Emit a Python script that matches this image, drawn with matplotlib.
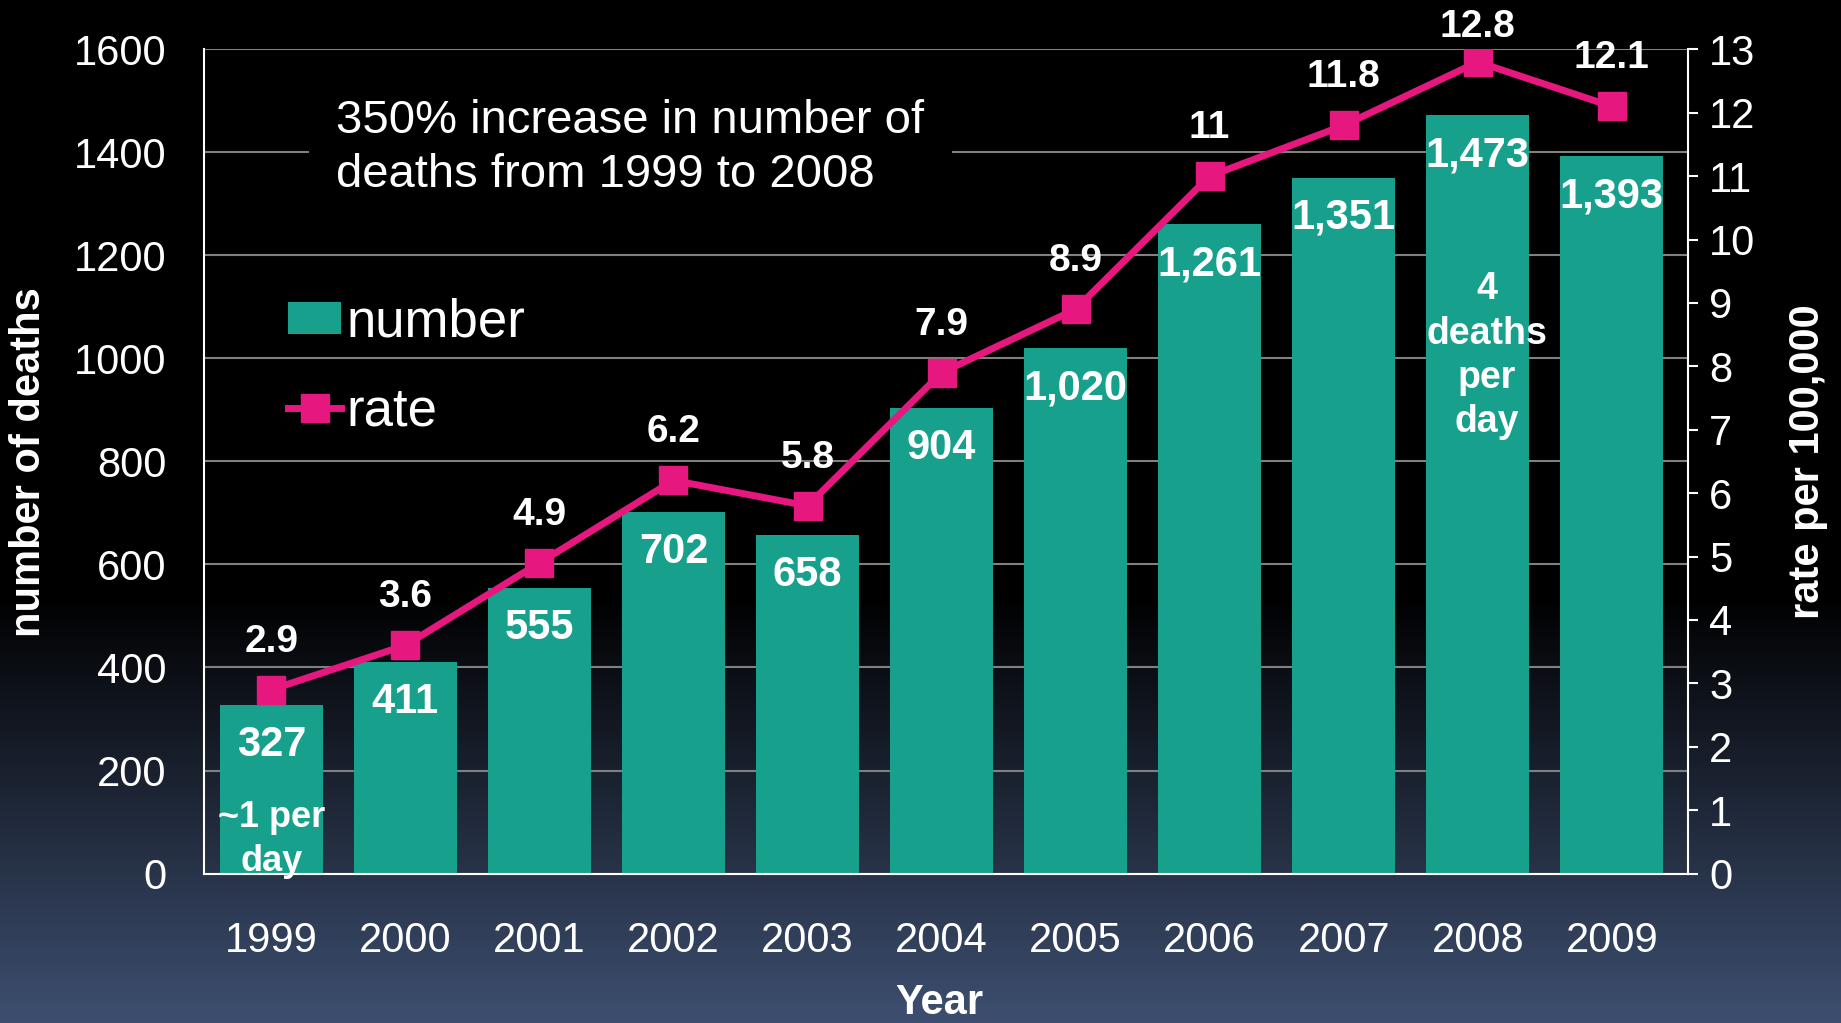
import numpy as np
import matplotlib.pyplot as plt
from matplotlib.patches import Patch
from matplotlib.lines import Line2D

plt.rcParams['font.family'] = ['Liberation Sans', 'DejaVu Sans']

# data
years = ['1999', '2000', '2001', '2002', '2003', '2004', '2005', '2006', '2007', '2008', '2009']
deaths = [327, 411, 555, 702, 658, 904, 1020, 1261, 1351, 1473, 1393]
rates = [2.9, 3.6, 4.9, 6.2, 5.8, 7.9, 8.9, 11, 11.8, 12.8, 12.1]

bar_color = '#17a08b'
line_color = '#e6177e'

W, H, DPI = 1841, 1023, 100
fig = plt.figure(figsize=(W / DPI, H / DPI), dpi=DPI, facecolor='black')

# slide background: black fading to slate blue at the bottom
bg = fig.add_axes([0, 0, 1, 1], zorder=-10)
yy = np.linspace(0, 1, 600)
t = np.clip((yy - 0.58) / 0.42, 0, 1)
bottom_col = np.array([0.24, 0.31, 0.44])
grad = t[:, None, None] * bottom_col[None, None, :]
bg.imshow(grad, aspect='auto', extent=[0, 1, 0, 1])
bg.axis('off')

ax = fig.add_axes([0.111, 0.1461, 0.806, 0.8057])
ax.set_facecolor('none')
x = np.arange(len(years))

ax.bar(x, deaths, width=0.77, color=bar_color, zorder=2)
ax.set_xlim(-0.5, 10.57)
ax.set_ylim(0, 1600)
ax.set_yticks(range(0, 1601, 200))
ax.set_xticks(x)
ax.set_xticklabels(years)
ax.set_axisbelow(True)
ax.yaxis.grid(True, color='#808080', lw=1.5)

for s in ['top', 'right']:
    ax.spines[s].set_visible(False)
for s in ['left', 'bottom']:
    ax.spines[s].set_color('white')
    ax.spines[s].set_linewidth(1.5)
ax.tick_params(axis='both', length=0, colors='white', labelsize=30)
ax.tick_params(axis='y', pad=27)
ax.tick_params(axis='x', pad=34)

# bar value labels
for i, v in enumerate(deaths):
    ax.annotate(f'{v:,}', (i, v), xytext=(0, -29), textcoords='offset points',
                ha='center', va='center', color='white', fontsize=30, fontweight='bold',
                zorder=4)

# rate line on the right axis
ax2 = ax.twinx()
ax2.plot(x, rates, color=line_color, lw=5, marker='s', ms=20, zorder=3)
ax2.set_ylim(0, 13)
ax2.set_yticks(range(0, 14))
for s in ['top', 'left', 'bottom']:
    ax2.spines[s].set_visible(False)
ax2.spines['right'].set_color('white')
ax2.spines['right'].set_linewidth(1.5)
ax2.tick_params(axis='y', colors='white', length=7, width=1.5, pad=8,
                labelsize=30, direction='out')

for i, r in enumerate(rates):
    ypx = ax2.transData.transform((i, r))[1]
    off = min(48, (H - 27) - ypx)
    ax2.annotate(f'{r:g}', (i, r), xytext=(0, off * 72 / DPI), textcoords='offset points',
                 ha='center', va='center', color='white', fontsize=28, fontweight='bold')

# callouts
ax.text(0.089, 0.880, '350% increase in number of\ndeaths from 1999 to 2008',
        transform=ax.transAxes, ha='left', va='center', color='white', fontsize=34,
        linespacing=1.3, zorder=3,
        bbox=dict(facecolor='black', edgecolor='none', pad=20))
ax.text(0, 66, '~1 per\nday', ha='center', va='center', color='white',
        fontsize=26, fontweight='bold', linespacing=1.3, zorder=4)
ax.text(9.07, 1005, '4\ndeaths\nper\nday', ha='center', va='center', color='white',
        fontsize=27, fontweight='bold', linespacing=1.3, zorder=4)

# legend
handles = [Patch(facecolor=bar_color, edgecolor='none'),
           Line2D([0], [0], color=line_color, lw=5, marker='s', ms=20)]
leg = ax2.legend(handles, ['number', 'rate'], loc='upper left',
                 bbox_to_anchor=(0.0566, 0.699), frameon=False, fontsize=38,
                 handlelength=1.0, handleheight=0.55, handletextpad=0.1,
                 labelspacing=0.74, borderpad=0, borderaxespad=0)
for txt in leg.get_texts():
    txt.set_color('white')

# axis titles
fig.text(29 / W, 1 - 462 / H, 'number of deaths', rotation=90, ha='center', va='center',
         color='white', fontsize=30, fontweight='bold')
fig.text(1808 / W, 1 - 462 / H, 'rate per 100,000', rotation=90, ha='center', va='center',
         color='white', fontsize=30, fontweight='bold')
fig.text(939 / W, 1 - 1014 / H, 'Year', ha='center', va='baseline',
         color='white', fontsize=30, fontweight='bold')

fig.savefig('out.png', dpi=DPI, facecolor=fig.get_facecolor())
